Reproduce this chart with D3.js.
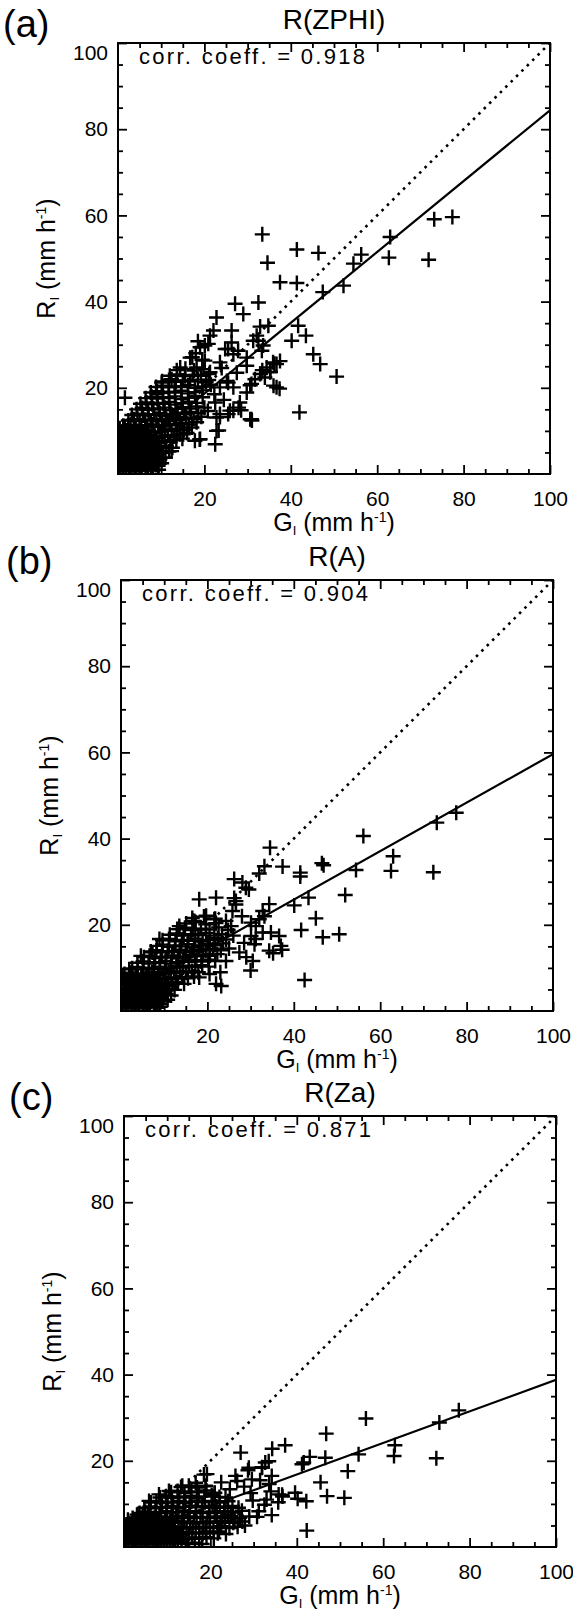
<!DOCTYPE html>
<html>
<head>
<meta charset="utf-8">
<script src="https://cdn.jsdelivr.net/npm/d3@7/dist/d3.min.js"></script>
<style>
    body { margin: 0; background: #fff; }
    svg text { font-family: "Liberation Sans", Arial, Helvetica, sans-serif; fill: #000; }
</style>
</head>
<body>
<svg id="chart" width="573" height="1612"></svg>
<script>
var panelLetters = ['(a)', '(b)', '(c)'];
var panelTitles = ['R(ZPHI)', 'R(A)', 'R(Za)'];
var corrCoeffs = ['0.918', '0.904', '0.871'];
var fitSlopes = [0.822, 0.563, 0.366];
var fitIntercepts = [2.2, 3.3, 2.2];
var majorTicks = [20, 40, 60, 80, 100];
var minorTicks = [5, 10, 15, 25, 30, 35, 45, 50, 55, 65, 70, 75, 85, 90, 95];

// [G, R] pairs, gauge vs radar rain rate (mm/h)
var pointsZPHI = [
    [0.6,0.8],[1.8,1.1],[3.1,0.6],[4.2,0.9],[5.5,0.7],[6.9,1.2],[8.1,0.8],[9.4,1.0],
    [0.3,2.0],[1.4,2.3],[2.6,1.9],[3.9,2.2],[5.0,2.0],[6.3,2.4],[7.6,1.9],[8.8,2.1],[10.1,2.5],
    [0.9,3.3],[2.1,3.6],[3.4,3.2],[4.6,3.5],[5.8,3.3],[7.1,3.7],[8.4,3.1],[9.7,3.4],[11.0,3.8],
    [0.4,4.6],[1.6,4.9],[2.8,4.5],[4.1,4.8],[5.3,4.6],[6.6,5.0],[7.9,4.4],[9.1,4.7],[10.4,4.9],[11.8,5.2],
    [1.1,5.9],[2.3,6.2],[3.6,5.8],[4.8,6.1],[6.1,5.9],[7.3,6.3],[8.6,5.7],[9.9,6.0],[11.2,6.4],[12.6,6.1],
    [0.7,7.2],[1.9,7.5],[3.2,7.1],[4.4,7.4],[5.7,7.2],[6.9,7.6],[8.2,7.0],[9.5,7.3],[10.8,7.7],[12.1,7.4],[13.5,7.9],[14.9,8.2],
    [1.3,8.5],[2.6,8.8],[3.8,8.4],[5.1,8.7],[6.4,8.5],[7.6,8.9],[8.9,8.3],[10.2,8.6],[11.6,9.0],[12.9,8.7],[14.3,9.2],[16.0,9.5],
    [0.8,9.8],[2.0,10.1],[3.3,9.7],[4.6,10.0],[5.9,9.8],[7.1,10.2],[8.4,9.6],[9.7,9.9],[11.0,10.3],[12.4,10.0],[13.8,10.5],[15.3,10.2],[17.1,10.8],
    [1.6,11.1],[2.9,11.4],[4.1,11.0],[5.4,11.3],[6.7,11.1],[8.0,11.5],[9.3,10.9],[10.6,11.2],[12.0,11.6],[13.4,11.3],[14.8,11.8],[16.4,11.5],[18.2,12.0],
    [2.4,12.4],[3.7,12.7],[5.0,12.3],[6.3,12.6],[7.6,12.4],[8.9,12.8],[10.2,12.2],[11.5,12.5],[12.9,12.9],[14.3,12.6],[15.8,13.1],[17.5,12.8],[19.3,13.3],
    [3.2,13.7],[4.5,14.0],[5.8,13.6],[7.1,13.9],[8.4,13.7],[9.7,14.1],[11.0,13.5],[12.4,13.8],[13.8,14.2],[15.3,13.9],[16.9,14.4],[18.6,14.1],
    [4.3,15.0],[5.6,15.3],[6.9,14.9],[8.2,15.2],[9.5,15.0],[10.8,15.4],[12.1,14.8],[13.5,15.1],[15.0,15.5],[16.6,15.2],[18.3,15.7],[20.0,15.4],
    [5.2,16.3],[6.6,16.6],[7.9,16.2],[9.2,16.5],[10.5,16.3],[11.9,16.7],[13.3,16.1],[14.8,16.4],[16.4,16.8],[18.1,16.5],
    [6.4,17.6],[7.8,17.9],[9.1,17.5],[10.4,17.8],[11.8,17.6],[13.2,18.0],[14.7,17.4],[16.3,17.7],[17.9,18.1],[19.6,17.8],
    [7.6,18.9],[9.0,19.2],[10.4,18.8],[11.8,19.1],[13.2,18.9],[14.7,19.3],[16.2,18.7],[17.8,19.0],[19.5,19.4],
    [8.8,20.2],[10.3,20.5],[11.7,20.1],[13.1,20.4],[14.6,20.2],[16.2,20.6],[17.8,20.0],[19.6,20.3],[21.5,20.7],
    [10.2,21.5],[11.8,21.8],[13.4,21.4],[15.0,21.7],[16.7,21.5],[18.5,21.9],[20.4,21.3],
    [12.0,22.8],[13.7,23.1],[15.5,22.7],[17.3,23.0],[19.2,22.8],[21.1,23.2],
    [13.6,24.1],[15.6,24.4],[17.6,24.0],[19.8,24.3],
    [1.2,1.5],[2.5,1.4],[3.8,1.6],[5.2,1.3],[6.4,1.7],[7.8,1.4],[0.5,2.8],[1.9,2.9],[3.2,2.7],[4.5,3.0],
    [5.7,2.6],[7.0,2.9],[8.3,2.6],[1.2,4.1],[2.4,4.0],[3.7,4.2],[5.0,3.9],[6.2,4.2],[7.5,3.9],[8.8,4.1],
    [0.6,5.3],[1.9,5.4],[3.1,5.2],[4.4,5.5],[5.8,5.3],[7.0,5.6],[8.3,5.2],[9.6,5.4],[1.5,6.6],[2.7,6.8],
    [4.0,6.5],[5.3,6.7],[6.5,6.6],[7.8,6.9],[9.1,6.5],[0.3,8.0],[2.2,7.9],[3.5,8.1],[4.8,7.9],[6.0,8.2],
    [7.3,7.9],[1.0,9.2],[2.8,9.3],[4.2,9.1],[5.5,9.3],[6.8,9.1],[0.4,10.6],[2.4,10.6],[3.7,10.5],[5.1,10.7],
    [33.4,55.6],[34.6,49.0],[41.4,52.1],[46.4,51.3],[63.0,55.0],[62.7,50.2],[56.3,50.9],[54.5,48.8],
    [52.2,43.7],[47.4,42.2],[41.4,44.3],[37.5,44.5],[32.5,39.8],[27.1,39.5],[29.0,37.1],[22.8,36.3],
    [22.1,33.3],[26.3,33.3],[32.9,34.2],[34.8,34.4],[32.1,32.1],[41.7,34.4],[43.5,32.1],[40.2,30.9],
    [31.3,30.9],[26.3,30.5],[21.3,32.1],[20.1,29.8],[73.2,59.1],[77.4,59.6],[71.9,49.7],[45.2,27.8],
    [46.8,25.5],[50.6,22.6],[42.0,14.3],[19.0,29.4],[18.0,28.0],[17.2,27.1],[19.5,26.5],[18.5,30.8],
    [24.8,29.0],[27.8,28.6],[29.8,27.0],[33.3,28.6],[33.6,29.8],[35.9,25.9],[37.5,26.2],[34.4,24.7],
    [32.9,23.2],[36.7,20.1],[30.9,20.9],[29.8,18.9],[28.2,16.6],[26.7,14.7],[25.5,13.9],[30.9,12.7],
    [22.8,13.1],[22.8,10.0],[22.5,6.9],[19.0,8.1],[1.6,17.7],[1.2,11.2],[9.0,18.5],[12.4,22.0],
    [14.4,24.7],[10.1,21.2],[18.2,24.7],[21.3,23.6],[25.5,21.2],[23.6,20.1],[26.7,20.1],[16.7,27.0],
    [20.1,26.3],[20.9,30.2],[25.5,29.0],[26.7,27.8],[23.6,25.9],[29.8,25.1],[32.5,30.9],[36.7,25.5],
    [35.2,23.6],[34.0,22.4],[31.7,22.0],[36.0,20.5],[25.2,21.6],[22.5,16.6],[23.6,13.9],[25.9,14.7],
    [27.9,15.4],[30.6,12.7],[17.8,7.7],[15.1,9.2],[12.4,5.3],[10.5,3.8],[9.3,1.9],[31.0,12.4],
    [23.3,10.1],[18.9,8.0],[28.5,14.8],[23.6,13.2],[36.2,25.6],[33.4,24.1],[35.3,23.7],[37.4,19.8],
    [30.6,20.6],[22.3,18.5],[24.5,17.2],[20.8,14.6],[21.0,21.8],[27.5,23.5],[24.0,24.6]
];

var pointsA = [
    [0.5,0.8],[1.7,1.1],[2.9,0.6],[4.2,0.9],[5.4,0.7],[6.7,1.2],[7.9,0.8],[9.1,1.0],
    [0.9,2.1],[2.2,2.4],[3.4,1.9],[4.7,2.2],[5.9,2.0],[7.2,2.5],[8.4,1.9],[9.7,2.2],[10.8,2.6],
    [0.4,3.4],[1.6,3.7],[2.9,3.2],[4.1,3.5],[5.4,3.3],[6.6,3.8],[7.9,3.2],[9.1,3.5],[10.4,3.9],[11.6,3.6],
    [1.1,4.7],[2.3,5.0],[3.6,4.5],[4.8,4.8],[6.1,4.6],[7.3,5.1],[8.6,4.5],[9.8,4.8],[11.1,5.2],[12.4,4.9],
    [0.7,6.0],[1.9,6.3],[3.1,5.8],[4.4,6.1],[5.6,5.9],[6.9,6.4],[8.1,5.8],[9.4,6.1],[10.6,6.5],[11.9,6.2],[13.2,6.6],[14.6,6.3],
    [1.4,7.3],[2.7,7.6],[3.9,7.1],[5.2,7.4],[6.4,7.2],[7.7,7.7],[8.9,7.1],[10.2,7.4],[11.5,7.8],[12.8,7.5],[14.1,7.9],[15.5,7.6],[16.9,8.0],
    [0.8,8.6],[2.1,8.9],[3.4,8.4],[4.7,8.7],[5.9,8.5],[7.2,9.0],[8.5,8.4],[9.7,8.7],[11.0,9.1],[12.3,8.8],[13.6,9.2],[15.0,8.9],[16.4,9.3],[17.9,9.0],
    [2.6,9.9],[3.9,10.2],[5.2,9.7],[6.5,10.0],[7.7,9.8],[9.0,10.3],[10.3,9.7],[11.6,10.0],[12.9,10.4],[14.3,10.1],[15.7,10.5],[17.2,10.2],[18.8,10.6],[20.3,10.3],
    [3.8,11.2],[5.1,11.5],[6.4,11.0],[7.7,11.3],[9.0,11.1],[10.3,11.6],[11.6,11.0],[12.9,11.3],[14.3,11.7],[15.7,11.4],[17.1,11.8],[18.6,11.5],[20.2,11.9],[21.8,11.6],
    [5.3,12.5],[6.6,12.8],[7.9,12.3],[9.2,12.6],[10.5,12.4],[11.8,12.9],[13.2,12.3],[14.6,12.6],[16.0,13.0],[17.5,12.7],[19.0,13.1],[20.6,12.8],[22.3,13.2],
    [6.9,13.8],[8.2,14.1],[9.5,13.6],[10.8,13.9],[12.2,13.7],[13.6,14.2],[15.0,13.6],[16.5,13.9],[18.0,14.3],[19.6,14.0],[21.3,14.4],[23.1,14.1],
    [8.3,15.1],[9.7,15.4],[11.1,14.9],[12.5,15.2],[13.9,15.0],[15.4,15.5],[16.9,14.9],[18.5,15.2],[20.1,15.6],[21.8,15.3],[23.6,15.7],
    [9.6,16.4],[11.1,16.7],[12.6,16.2],[14.1,16.5],[15.6,16.3],[17.2,16.8],[18.9,16.2],[20.6,16.5],[22.4,16.9],[24.3,16.6],
    [11.3,17.7],[12.9,18.0],[14.5,17.5],[16.2,17.8],[17.9,17.6],[19.7,18.1],[21.6,17.5],[23.4,17.8],
    [13.0,19.0],[14.8,19.3],[16.6,18.8],[18.5,19.1],[20.5,18.9],[22.6,19.4],[24.8,18.8],
    [15.1,20.3],[17.3,20.6],[19.6,20.1],[22.0,20.4],
    [16.5,21.6],[19.2,21.9],[21.8,21.4],
    [1.1,1.5],[2.4,1.4],[3.6,1.6],[5.0,1.3],[6.2,1.7],[7.6,1.4],[8.9,1.6],[0.4,2.8],[1.8,2.9],[3.0,2.7],
    [4.3,3.0],[5.6,2.6],[6.9,2.9],[8.1,2.6],[9.4,2.9],[1.2,4.1],[2.4,4.0],[3.7,4.2],[5.0,3.9],[6.2,4.2],
    [7.5,3.9],[8.8,4.1],[10.1,4.3],[0.6,5.3],[1.9,5.4],[3.1,5.2],[4.4,5.5],[5.8,5.3],[7.0,5.6],[8.3,5.2],
    [9.6,5.4],[10.9,5.8],[1.5,6.6],[2.7,6.8],[4.0,6.5],[5.3,6.7],[6.5,6.6],[7.8,6.9],[9.1,6.5],[0.3,8.0],
    [2.2,7.9],[3.5,8.1],[4.8,7.9],[6.0,8.2],[7.3,7.9],
    [34.5,37.9],[33.2,33.6],[32.0,31.9],[37.4,33.5],[41.5,32.1],[41.5,31.2],[46.5,34.3],[46.9,33.8],
    [56.1,40.6],[63.0,35.9],[62.5,32.5],[54.4,32.7],[51.9,26.9],[43.4,26.3],[40.1,24.5],[45.1,21.5],
    [41.7,18.8],[46.7,17.1],[50.5,17.8],[34.3,24.8],[32.8,23.2],[33.2,22.0],[32.0,21.3],[34.7,18.2],
    [36.6,17.4],[37.0,15.1],[34.3,14.0],[31.2,16.7],[30.9,15.5],[73.1,43.7],[77.6,46.0],[72.3,32.2],
    [42.5,7.2],[23.2,5.8],[28.1,29.8],[28.9,28.6],[26.2,30.6],[18.1,25.9],[22.0,26.3],[26.6,25.5],
    [25.8,23.2],[19.7,22.1],[17.0,20.9],[21.6,21.3],[24.3,20.9],[25.5,19.7],[31.2,19.7],[30.1,17.4],
    [32.8,18.2],[30.5,11.6],[27.4,13.6],[24.3,11.6],[22.0,6.3],[18.1,7.8],[12.7,6.6],[4.6,12.8],
    [1.9,9.7],[8.9,16.7],[13.5,19.0],[7.3,13.6],[29.6,28.2],[30.0,9.4],[35.2,13.4],[37.3,14.2],
    [26.2,26.2],[26.6,24.7],[13.5,19.7],[30.1,20.5],[16.6,20.9],[28.0,22.0],[26.0,17.5],[28.5,15.8],
    [23.0,9.0],[20.5,8.6],[25.0,14.5],[29.0,12.5]
];

var pointsZa = [
    [0.6,0.7],[1.8,1.0],[3.0,0.6],[4.3,0.9],[5.5,0.7],[6.8,1.1],[8.0,0.6],[9.3,0.9],[10.6,1.2],[11.9,0.8],[13.3,1.1],[14.8,0.7],[16.4,1.0],[18.1,0.7],
    [0.3,1.9],[1.4,2.2],[2.6,1.8],[3.9,2.1],[5.1,1.9],[6.4,2.3],[7.6,1.8],[8.9,2.1],[10.2,2.4],[11.5,2.0],[12.9,2.3],[14.3,1.9],[15.8,2.2],[17.4,1.9],[19.1,2.3],[20.8,2.0],
    [0.9,3.1],[2.1,3.4],[3.4,3.0],[4.6,3.3],[5.9,3.1],[7.1,3.5],[8.4,3.0],[9.7,3.3],[11.0,3.6],[12.3,3.2],[13.7,3.5],[15.1,3.1],[16.6,3.4],[18.2,3.1],[19.9,3.5],[21.7,3.2],[23.6,3.0],
    [0.5,4.3],[1.7,4.6],[2.9,4.2],[4.2,4.5],[5.4,4.3],[6.7,4.7],[7.9,4.2],[9.2,4.5],[10.5,4.8],[11.8,4.4],[13.1,4.7],[14.5,4.3],[15.9,4.6],[17.4,4.3],[19.0,4.7],[20.7,4.4],[22.5,4.8],[24.4,4.4],[26.3,4.7],
    [1.2,5.5],[2.4,5.8],[3.7,5.4],[4.9,5.7],[6.2,5.5],[7.4,5.9],[8.7,5.4],[10.0,5.7],[11.3,6.0],[12.6,5.6],[13.9,5.9],[15.3,5.5],[16.8,5.8],[18.3,5.5],[19.9,5.9],[21.6,5.6],[23.4,6.0],[25.3,5.6],[27.4,5.9],
    [2.0,6.7],[3.2,7.0],[4.5,6.6],[5.7,6.9],[7.0,6.7],[8.2,7.1],[9.5,6.6],[10.8,6.9],[12.1,7.2],[13.4,6.8],[14.8,7.1],[16.2,6.7],[17.7,7.0],[19.3,6.7],[21.0,7.1],[22.8,6.8],[24.7,7.2],[26.8,6.8],[29.0,7.1],
    [3.6,7.9],[4.9,8.2],[6.1,7.8],[7.4,8.1],[8.6,7.9],[9.9,8.3],[11.2,7.8],[12.5,8.1],[13.8,8.4],[15.2,8.0],[16.7,8.3],[18.2,7.9],[19.8,8.2],[21.5,7.9],[23.3,8.3],[25.2,8.0],[27.3,8.4],
    [4.7,9.1],[6.0,9.4],[7.3,9.0],[8.5,9.3],[9.8,9.1],[11.1,9.5],[12.4,9.0],[13.8,9.3],[15.2,9.6],[16.6,9.2],[18.1,9.5],[19.7,9.1],[21.4,9.4],[23.2,9.1],[25.1,9.5],
    [6.2,10.3],[7.5,10.6],[8.8,10.2],[10.1,10.5],[11.4,10.3],[12.8,10.7],[14.2,10.2],[15.6,10.5],[17.1,10.8],[18.7,10.4],[20.4,10.7],[22.2,10.3],[24.1,10.6],
    [8.3,11.5],[9.7,11.8],[11.1,11.4],[12.5,11.7],[14.0,11.5],[15.5,11.9],[17.0,11.4],[18.6,11.7],[20.3,12.0],[22.1,11.6],
    [10.9,12.7],[12.4,13.0],[14.0,12.6],[15.6,12.9],[17.3,12.7],[19.1,13.1],[21.0,12.6],
    [13.2,13.9],[15.0,14.2],[16.9,13.8],[18.9,14.1],
    [1.1,1.4],[2.3,1.3],[3.6,1.5],[4.9,1.3],[6.1,1.6],[7.3,1.3],[8.6,1.5],[9.9,1.4],[11.2,1.6],[12.5,1.4],
    [0.4,2.6],[1.6,2.7],[2.9,2.5],[4.2,2.8],[5.4,2.6],[6.7,2.9],[8.0,2.5],[9.3,2.7],[10.6,2.9],[11.9,2.6],
    [13.2,2.9],[1.2,3.8],[2.4,3.7],[3.7,3.9],[5.0,3.6],[6.3,3.9],[7.5,3.7],[8.8,3.9],[10.1,3.7],[11.4,4.0],
    [0.6,5.0],[1.9,5.0],[3.2,4.9],[4.5,5.1],[5.8,4.9],[7.1,5.2],[8.3,4.9],[9.6,5.1],[0.9,6.3],[2.6,6.2],
    [4.1,6.2],[5.3,6.3],[6.6,6.1],[7.9,6.4],[3.0,7.5],[4.3,7.4],[5.5,7.5],
    [56.0,29.8],[46.8,26.3],[62.7,23.6],[62.5,21.1],[54.3,21.5],[46.6,20.7],[43.0,20.9],[41.2,19.2],
    [41.6,19.6],[51.8,17.6],[34.3,22.8],[37.3,23.6],[32.7,19.6],[31.9,18.4],[45.5,15.0],[77.5,31.7],
    [73.0,28.9],[72.3,20.6],[51.0,11.4],[47.0,11.8],[42.2,10.6],[42.3,3.8],[40.2,11.2],[27.0,21.9],
    [28.7,17.8],[32.0,18.5],[36.7,11.7],[34.2,7.4],[22.0,3.6],[18.5,16.8],[19.2,16.9],[28.9,18.4],
    [33.5,19.9],[25.8,16.5],[26.2,15.3],[29.6,15.7],[34.2,16.5],[39.6,12.6],[35.8,12.2],[16.6,14.9],
    [18.9,14.2],[13.5,14.2],[10.4,13.0],[8.1,12.2],[5.8,10.7],[31.2,8.3],[30.8,7.0],[25.6,6.6],
    [26.5,9.1],[29.8,10.8],[34.0,12.9],[35.7,10.4],[33.6,14.6],[36.6,12.1],[29.3,12.5],[22.3,5.7],
    [24.0,7.4],[18.9,3.6],[23.5,11.5],[21.0,12.5],[24.5,13.4],[27.8,14.0],[20.5,9.5],[31.5,15.5],
    [33.0,11.0],[22.5,15.0],[28.0,5.0],[32.5,9.8]
];

var panelData = [pointsZPHI, pointsA, pointsZa];
var panelBoxes = [
    { left: 118, top: 43 },
    { left: 121, top: 580 },
    { left: 124, top: 1116 }
];
var W = 432, H = 431;

var svg = d3.select('#chart');
svg.append('rect').attr('width', 573).attr('height', 1612).attr('fill', '#fff');

panelData.forEach(function(points, i) {
    var box = panelBoxes[i];
    var g = svg.append('g').attr('transform', 'translate(' + box.left + ',' + box.top + ')');
    var x = d3.scaleLinear().domain([0, 100]).range([0, W]);
    var y = d3.scaleLinear().domain([0, 100]).range([H, 0]);

    g.append('clipPath').attr('id', 'clip' + i)
        .append('rect').attr('width', W).attr('height', H);

    // ticks point inwards on all four sides
    function styleAxis(sel) {
        sel.select('.domain').remove();
        sel.selectAll('.tick line').attr('stroke', '#000').attr('stroke-width', 1.8);
        sel.selectAll('.tick text').style('font-size', '21px');
    }
    g.append('g').attr('transform', 'translate(0,' + H + ')')
        .call(d3.axisBottom(x).tickValues(majorTicks).tickSize(-9).tickPadding(17).tickFormat(d3.format('d')))
        .call(styleAxis);
    g.append('g').attr('transform', 'translate(0,' + H + ')')
        .call(d3.axisBottom(x).tickValues(minorTicks).tickSize(-5).tickFormat(''))
        .call(styleAxis);
    g.append('g')
        .call(d3.axisTop(x).tickValues(majorTicks).tickSize(-9).tickFormat(''))
        .call(styleAxis);
    g.append('g')
        .call(d3.axisTop(x).tickValues(minorTicks).tickSize(-5).tickFormat(''))
        .call(styleAxis);
    var leftAxis = g.append('g')
        .call(d3.axisLeft(y).tickValues(majorTicks).tickSize(-9).tickPadding(10).tickFormat(d3.format('d')))
        .call(styleAxis);
    // top label sits just inside the frame
    leftAxis.selectAll('.tick text').filter(function(d) { return d === 100; }).attr('y', 10);
    g.append('g')
        .call(d3.axisLeft(y).tickValues(minorTicks).tickSize(-5).tickFormat(''))
        .call(styleAxis);
    g.append('g').attr('transform', 'translate(' + W + ',0)')
        .call(d3.axisRight(y).tickValues(majorTicks).tickSize(-9).tickFormat(''))
        .call(styleAxis);
    g.append('g').attr('transform', 'translate(' + W + ',0)')
        .call(d3.axisRight(y).tickValues(minorTicks).tickSize(-5).tickFormat(''))
        .call(styleAxis);

    var plot = g.append('g').attr('clip-path', 'url(#clip' + i + ')');

    // 1:1 line
    plot.append('line')
        .attr('x1', x(0)).attr('y1', y(0))
        .attr('x2', x(100)).attr('y2', y(100))
        .attr('stroke', '#000').attr('stroke-width', 2.6)
        .attr('stroke-dasharray', '2.6,5');

    // fitted line
    plot.append('line')
        .attr('x1', x(0)).attr('y1', y(fitIntercepts[i]))
        .attr('x2', x(100)).attr('y2', y(fitIntercepts[i] + fitSlopes[i] * 100))
        .attr('stroke', '#000').attr('stroke-width', 2.2);

    plot.selectAll('path.pt')
        .data(points)
        .enter().append('path')
        .attr('class', 'pt')
        .attr('d', 'M-7.5,0H7.5M0,-7.5V7.5')
        .attr('transform', function(d) { return 'translate(' + x(d[0]) + ',' + y(d[1]) + ')'; })
        .attr('stroke', '#000').attr('stroke-width', 2.4).attr('fill', 'none');

    g.append('rect').attr('width', W).attr('height', H)
        .attr('fill', 'none').attr('stroke', '#000').attr('stroke-width', 2);

    g.append('text')
        .attr('x', 21).attr('y', 21)
        .attr('textLength', 226).attr('lengthAdjust', 'spacing')
        .style('font-size', '22px')
        .text('corr. coeff. = ' + corrCoeffs[i]);

    g.append('text')
        .attr('x', W / 2).attr('y', -14)
        .attr('text-anchor', 'middle')
        .style('font-size', '28px')
        .text(panelTitles[i]);

    g.append('text')
        .attr('x', 3 + 3 * i - box.left).attr('y', -6)
        .style('font-size', '38px')
        .text(panelLetters[i]);

    var yl = g.append('text')
        .attr('transform', 'translate(-63,' + (H / 2) + ') rotate(-90)')
        .attr('text-anchor', 'middle')
        .style('font-size', '25px');
    yl.append('tspan').text('R');
    yl.append('tspan').attr('dy', 4).style('font-size', '13px').text('I');
    yl.append('tspan').attr('dy', -4).text(' (mm h');
    yl.append('tspan').attr('dy', -9).style('font-size', '14px').text('-1');
    yl.append('tspan').attr('dy', 9).text(')');

    var xl = g.append('text')
        .attr('x', W / 2).attr('y', H + 57)
        .attr('text-anchor', 'middle')
        .style('font-size', '25px');
    xl.append('tspan').text('G');
    xl.append('tspan').attr('dy', 4).style('font-size', '13px').text('I');
    xl.append('tspan').attr('dy', -4).text(' (mm h');
    xl.append('tspan').attr('dy', -9).style('font-size', '14px').text('-1');
    xl.append('tspan').attr('dy', 9).text(')');
});
</script>
</body>
</html>
